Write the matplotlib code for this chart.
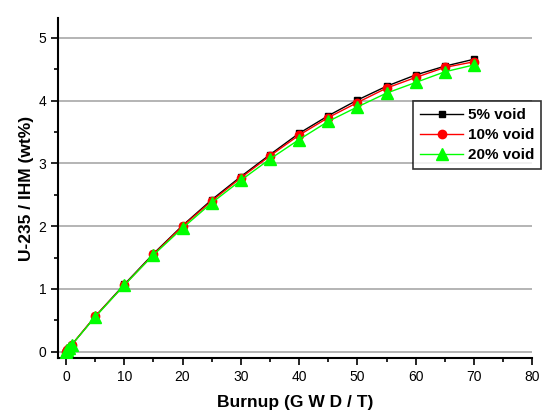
import matplotlib
matplotlib.use("Agg")
import matplotlib.pyplot as plt
from matplotlib.ticker import MultipleLocator

plt.rcParams['font.family'] = ['Liberation Sans', 'DejaVu Sans']

# burnup (GWD/T)
burnup = [0, 0.25, 0.5, 1, 5, 10, 15, 20, 25, 30, 35, 40, 45, 50, 55, 60, 65, 70]

# U-235 / IHM (wt%)
void_5 = [0.0, 0.03, 0.06, 0.11, 0.56, 1.07, 1.56, 2.01, 2.42, 2.79, 3.14, 3.48,
          3.76, 4.01, 4.23, 4.41, 4.55, 4.66]
void_10 = [0.0, 0.03, 0.06, 0.11, 0.56, 1.06, 1.55, 2.00, 2.40, 2.77, 3.12, 3.45,
           3.73, 3.97, 4.20, 4.37, 4.53, 4.62]
void_20 = [0.0, 0.03, 0.06, 0.11, 0.55, 1.06, 1.54, 1.97, 2.37, 2.73, 3.07, 3.38,
           3.67, 3.90, 4.12, 4.29, 4.46, 4.57]

labels = ["5% void", "10% void", "20% void"]

fig = plt.figure(figsize=(5.42, 4.15), dpi=100)
ax = fig.add_axes([0.107, 0.137, 0.875, 0.820])

for y in range(0, 6):
    ax.axhline(y, color="#a8a8a8", lw=1.2, zorder=1)

ax.plot(burnup, void_5, color="black", lw=1, marker="s", ms=5, label=labels[0], zorder=3)
ax.plot(burnup, void_10, color="red", lw=1, marker="o", ms=6, label=labels[1], zorder=4)
ax.plot(burnup, void_20, color="#00ff00", lw=1, marker="^", ms=8, label=labels[2], zorder=5)

ax.set_xlim(-1.37, 80)
ax.set_ylim(-0.104, 5.32)
ax.xaxis.set_major_locator(MultipleLocator(10))
ax.xaxis.set_minor_locator(MultipleLocator(5))
ax.yaxis.set_major_locator(MultipleLocator(1))
ax.yaxis.set_minor_locator(MultipleLocator(0.5))

for s in ["top", "right"]:
    ax.spines[s].set_visible(False)
for s in ["left", "bottom"]:
    ax.spines[s].set_linewidth(1.5)

ax.tick_params(which="major", direction="out", length=5, width=1.2, labelsize=10)
ax.tick_params(which="minor", direction="out", length=3, width=1.2)

ax.set_xlabel("Burnup (G W D / T)", fontsize=12.5, fontweight="bold", labelpad=8)
ax.set_ylabel("U-235 / IHM (wt%)", fontsize=12.5, fontweight="bold", labelpad=3)

leg = ax.legend(loc="upper right", bbox_to_anchor=(0.998, 1 - 101 / 415),
                bbox_transform=fig.transFigure, frameon=True, fancybox=False,
                prop={"weight": "bold", "size": 11}, handlelength=2.8,
                borderpad=0.45, labelspacing=0.4, handletextpad=0.3,
                borderaxespad=0)
leg.get_frame().set_edgecolor("black")
leg.get_frame().set_linewidth(1.2)

fig.savefig("out.png", dpi=100)
